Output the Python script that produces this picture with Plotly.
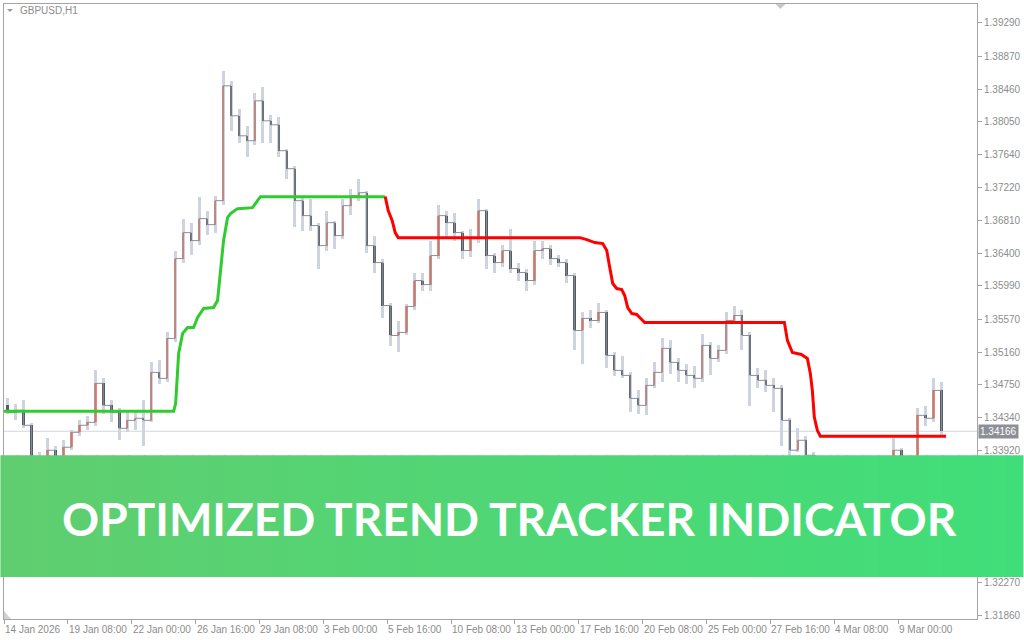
import plotly.graph_objects as go

# ---------------- data ----------------
# Price candles, aggregated to 8 one-hour bars each (bar index axis, MT4 style)
hours_per_candle = 8
open_ = [1.34491, 1.34404, 1.34429, 1.34241, 1.33777, 1.33802, 1.33928, 1.33777, 1.33965, 1.34153,
         1.34241, 1.34278, 1.34767, 1.34491, 1.34404, 1.34203, 1.34303, 1.34329, 1.34303, 1.34905,
         1.34830, 1.35331, 1.36333, 1.36659, 1.36559, 1.36835, 1.36759, 1.37060, 1.38501, 1.38125,
         1.37874, 1.37812, 1.38313, 1.38062, 1.38012, 1.37687, 1.37461, 1.37060, 1.36872, 1.36747,
         1.36496, 1.36784, 1.36621, 1.36997, 1.37123, 1.37160, 1.36496, 1.36283, 1.35744, 1.35368,
         1.35406, 1.35732, 1.36058, 1.36007, 1.36371, 1.36872, 1.36784, 1.36659, 1.36434, 1.36584,
         1.36935, 1.36371, 1.36283, 1.36434, 1.36208, 1.36158, 1.36058, 1.36434, 1.36459, 1.36333,
         1.36283, 1.36120, 1.35431, 1.35582, 1.35556, 1.35657, 1.35118, 1.34930, 1.34867, 1.34579,
         1.34491, 1.34742, 1.34905, 1.35206, 1.35030, 1.34930, 1.34867, 1.34830, 1.35243, 1.35080,
         1.35181, 1.35556, 1.35619, 1.35368, 1.34867, 1.34805, 1.34742, 1.34704, 1.34303, 1.33928,
         1.34053, 1.33865, 1.33301, 1.33176, 1.33426, 1.33740, 1.33677, 1.33577, 1.33489, 1.33426,
         1.33552, 1.33614, 1.33928, 1.33113, 1.33552, 1.34366, 1.34329, 1.34679]
high_ = [1.34579, 1.34504, 1.34554, 1.34266, 1.33902, 1.34078, 1.33978, 1.34053, 1.34178, 1.34303,
         1.34354, 1.34930, 1.34830, 1.34554, 1.34454, 1.34429, 1.34429, 1.34554, 1.35030, 1.35055,
         1.35406, 1.36434, 1.36835, 1.36784, 1.37110, 1.36935, 1.37123, 1.38689, 1.38564, 1.38213,
         1.38000, 1.38413, 1.38488, 1.38138, 1.38113, 1.37712, 1.37499, 1.37110, 1.37085, 1.36784,
         1.36935, 1.36809, 1.37085, 1.37210, 1.37336, 1.37185, 1.36621, 1.36333, 1.35782, 1.35556,
         1.35757, 1.36158, 1.36158, 1.36559, 1.37010, 1.36935, 1.36910, 1.36684, 1.36709, 1.37085,
         1.36960, 1.36408, 1.36509, 1.36709, 1.36283, 1.36208, 1.36559, 1.36559, 1.36509, 1.36383,
         1.36333, 1.36158, 1.35657, 1.35682, 1.35782, 1.35682, 1.35155, 1.35105, 1.34905, 1.34679,
         1.34830, 1.35030, 1.35331, 1.35306, 1.35080, 1.35005, 1.34980, 1.35381, 1.35281, 1.35243,
         1.35657, 1.35744, 1.35682, 1.35406, 1.34955, 1.34930, 1.34830, 1.34742, 1.34329, 1.34203,
         1.34103, 1.33902, 1.33489, 1.33552, 1.33865, 1.33852, 1.33777, 1.33702, 1.33602, 1.33652,
         1.33702, 1.34078, 1.33953, 1.33677, 1.34454, 1.34479, 1.34830, 1.34780]
low_ = [1.34379, 1.34303, 1.34203, 1.33614, 1.33652, 1.33727, 1.33677, 1.33426, 1.33928, 1.34103,
        1.34178, 1.34228, 1.34379, 1.34278, 1.34053, 1.34153, 1.34178, 1.33978, 1.34278, 1.34755,
        1.34780, 1.35281, 1.36283, 1.36383, 1.36509, 1.36634, 1.36659, 1.37010, 1.37937, 1.37787,
        1.37611, 1.37762, 1.37787, 1.37787, 1.37611, 1.37336, 1.36734, 1.36684, 1.36684, 1.36208,
        1.36434, 1.36459, 1.36584, 1.36885, 1.37060, 1.36408, 1.36158, 1.35582, 1.35231, 1.35155,
        1.35368, 1.35682, 1.35932, 1.35932, 1.36333, 1.36584, 1.36559, 1.36333, 1.36358, 1.36534,
        1.36208, 1.36158, 1.36233, 1.36158, 1.36058, 1.35932, 1.36007, 1.36333, 1.36258, 1.36233,
        1.36033, 1.35181, 1.35005, 1.35456, 1.35531, 1.34955, 1.34855, 1.34830, 1.34404, 1.34379,
        1.34366, 1.34704, 1.34780, 1.34880, 1.34780, 1.34755, 1.34704, 1.34780, 1.34867, 1.35030,
        1.35130, 1.35506, 1.35181, 1.34479, 1.34704, 1.34654, 1.34404, 1.33978, 1.33752, 1.33902,
        1.33740, 1.32675, 1.32487, 1.33151, 1.33401, 1.33552, 1.33502, 1.33326, 1.33301, 1.33351,
        1.33476, 1.33577, 1.32875, 1.33050, 1.33502, 1.34228, 1.34278, 1.34103]
close_ = [1.34404, 1.34429, 1.34241, 1.33777, 1.33802, 1.33928, 1.33777, 1.33965, 1.34153, 1.34241,
          1.34278, 1.34767, 1.34491, 1.34404, 1.34203, 1.34303, 1.34329, 1.34303, 1.34905, 1.34830,
          1.35331, 1.36333, 1.36659, 1.36559, 1.36835, 1.36759, 1.37060, 1.38501, 1.38125, 1.37874,
          1.37812, 1.38313, 1.38062, 1.38012, 1.37687, 1.37461, 1.37060, 1.36872, 1.36747, 1.36496,
          1.36784, 1.36621, 1.36997, 1.37123, 1.37160, 1.36496, 1.36283, 1.35744, 1.35368, 1.35406,
          1.35732, 1.36058, 1.36007, 1.36371, 1.36872, 1.36784, 1.36659, 1.36434, 1.36584, 1.36935,
          1.36371, 1.36283, 1.36434, 1.36208, 1.36158, 1.36058, 1.36434, 1.36459, 1.36333, 1.36283,
          1.36120, 1.35431, 1.35582, 1.35556, 1.35657, 1.35118, 1.34930, 1.34867, 1.34579, 1.34491,
          1.34742, 1.34905, 1.35206, 1.35030, 1.34930, 1.34867, 1.34830, 1.35243, 1.35080, 1.35181,
          1.35556, 1.35619, 1.35368, 1.34867, 1.34805, 1.34742, 1.34704, 1.34303, 1.33928, 1.34053,
          1.33865, 1.33301, 1.33176, 1.33426, 1.33740, 1.33677, 1.33577, 1.33489, 1.33426, 1.33552,
          1.33614, 1.33928, 1.33113, 1.33552, 1.34366, 1.34329, 1.34679, 1.34166]

# Optimized Trend Tracker line (bar index, price)
ott_up_x = [0, 170, 172, 175, 179, 184, 190, 194, 200, 210, 214, 217, 220, 224, 227, 234, 249, 254, 257, 382]
ott_up_y = [1.34416, 1.34416, 1.34516, 1.35143, 1.35394, 1.35469, 1.35469, 1.35594, 1.35707, 1.35719,
            1.35807, 1.36220, 1.36559, 1.36847, 1.36897, 1.36960, 1.36972, 1.37060, 1.37110, 1.37110]
ott_dn_x = [382, 385, 389, 392, 395, 577, 584, 592, 600, 604, 607, 610, 614, 619, 622, 625, 629, 634,
            637, 642, 782, 785, 790, 799, 805, 808, 810, 812, 815, 818, 944]
ott_dn_y = [1.37110, 1.36935, 1.36809, 1.36659, 1.36596, 1.36596, 1.36571, 1.36534, 1.36521, 1.36434,
            1.36220, 1.36020, 1.35957, 1.35944, 1.35869, 1.35719, 1.35644, 1.35632, 1.35594, 1.35531,
            1.35531, 1.35306, 1.35155, 1.35130, 1.35080, 1.34892, 1.34679, 1.34341, 1.34178, 1.34103,
            1.34103]

last_price = 1.34166

x_tick_bars = [0, 64, 128, 192, 256, 320, 384, 448, 512, 576, 640, 704, 768, 832, 896]
x_tick_text = ["14 Jan 2026", "19 Jan 08:00", "22 Jan 00:00", "26 Jan 16:00", "29 Jan 08:00",
               "3 Feb 00:00", "5 Feb 16:00", "10 Feb 08:00", "13 Feb 00:00", "17 Feb 16:00",
               "20 Feb 08:00", "25 Feb 00:00", "27 Feb 16:00", "4 Mar 08:00", "9 Mar 00:00"]
y_tick_vals = [1.39290, 1.38870, 1.38460, 1.38050, 1.37640, 1.37220, 1.36810, 1.36400, 1.35990, 1.35570,
               1.35160, 1.34750, 1.34340, 1.33920, 1.33510, 1.33100, 1.32690, 1.32270, 1.31860]
y_tick_text = ["%.5f" % v for v in y_tick_vals]

symbol_label = "GBPUSD,H1"
banner_text = "OPTIMIZED TREND TRACKER INDICATOR"

# ---------------- layout geometry ----------------
W, H = 1024, 640
PL, PR, PT, PB = 3, 978, 3, 619          # plot area in pixels
X_RANGE = [0, PR - PL]
Y_RANGE = [1.31810, 1.39528]


def px(xp):
    return (xp - PL) / (PR - PL)


def py(yp):
    return (PB - yp) / (PB - PT)


centers = [hours_per_candle * i + hours_per_candle / 2 - 0.5 for i in range(len(close_))]

fig = go.Figure()

# wicks (light halo like the dense 1-px bars of the terminal)
fig.add_trace(go.Bar(x=centers, y=[h - l for h, l in zip(high_, low_)], base=low_, width=3,
                     marker=dict(color="#cdd3df", line=dict(width=0)),
                     hoverinfo="skip", showlegend=False))

# thin path joining consecutive candles
fig.add_trace(go.Scatter(x=centers, y=close_, mode="lines", line=dict(color="#8a8f99", width=1, shape="hv"),
                         hoverinfo="skip", showlegend=False))

# bodies
body_base = [min(o, c) for o, c in zip(open_, close_)]
body_h = [max(abs(c - o), 0.00008) for o, c in zip(open_, close_)]
body_col = ["#f08371" if c >= o else "#555a64" for o, c in zip(open_, close_)]
fig.add_trace(go.Bar(x=centers, y=body_h, base=body_base, width=2.5,
                     marker=dict(color=body_col, line=dict(width=0)),
                     hoverinfo="skip", showlegend=False))

# OTT indicator
fig.add_trace(go.Scatter(x=ott_up_x, y=ott_up_y, mode="lines",
                         line=dict(color="#2ecc2e", width=3), hoverinfo="skip", showlegend=False))
fig.add_trace(go.Scatter(x=ott_dn_x, y=ott_dn_y, mode="lines",
                         line=dict(color="#ff0000", width=3), hoverinfo="skip", showlegend=False))

shapes = []
# current price line
shapes.append(dict(type="line", xref="paper", yref="y", x0=0, x1=1, y0=last_price, y1=last_price,
                   line=dict(color="#d2d5de", width=1), layer="below"))
# small markers
shapes.append(dict(type="path", xref="paper", yref="paper",
                   path="M %f,%f L %f,%f L %f,%f Z" % (px(6), py(8), px(12), py(8), px(9), py(11)),
                   fillcolor="#9a9a9a", line=dict(width=0)))
shapes.append(dict(type="path", xref="paper", yref="paper",
                   path="M %f,%f L %f,%f L %f,%f Z" % (px(776), py(3), px(786), py(3), px(781), py(8)),
                   fillcolor="#c8c8c8", line=dict(width=0)))
shapes.append(dict(type="path", xref="paper", yref="paper",
                   path="M %f,%f L %f,%f L %f,%f Z" % (px(3), py(611), px(3), py(619), px(10), py(619)),
                   fillcolor="#d0d0d8", line=dict(width=0)))

# gradient banner (opaque strips, slightly overlapped so no seams)
N = 64
left_rgb = (96, 206, 112)
right_rgb = (64, 222, 122)
step = W / N
for i in range(N):
    t = (i + 0.5) / N
    r = round(left_rgb[0] + (right_rgb[0] - left_rgb[0]) * t)
    g = round(left_rgb[1] + (right_rgb[1] - left_rgb[1]) * t)
    b = round(left_rgb[2] + (right_rgb[2] - left_rgb[2]) * t)
    shapes.append(dict(type="rect", xref="paper", yref="paper",
                       x0=px(i * step - 0.6), x1=px((i + 1) * step + 0.6), y0=py(577), y1=py(455),
                       fillcolor="rgb(%d,%d,%d)" % (r, g, b), line=dict(width=0), layer="above"))

annotations = []
for xb, txt in zip(x_tick_bars, x_tick_text):
    annotations.append(dict(x=xb, xref="x", y=0, yref="paper", yanchor="top", xanchor="left",
                            yshift=-3, xshift=-1, text=txt, showarrow=False,
                            font=dict(family="Liberation Sans", size=10, color="#8c8c8c")))
annotations.append(dict(x=px(17), xref="paper", y=py(10), yref="paper", xanchor="left", yanchor="middle",
                        text=symbol_label, showarrow=False,
                        font=dict(family="Liberation Sans", size=10, color="#8c8c8c")))
annotations.append(dict(x=1, xref="paper", y=last_price, yref="y", xanchor="left", yanchor="middle",
                        xshift=1, text="%.5f" % last_price, showarrow=False, bgcolor="#8e8f96",
                        borderpad=1, font=dict(family="Liberation Sans", size=10, color="#ffffff")))
annotations.append(dict(x=px(510), xref="paper", y=py(518), yref="paper", xanchor="center", yanchor="middle",
                        text=banner_text, showarrow=False,
                        font=dict(family="Lato", size=46, color="#ffffff", weight=700)))

fig.update_layout(
    width=W, height=H,
    margin=dict(l=PL, r=W - PR, t=PT, b=H - PB),
    paper_bgcolor="#ffffff", plot_bgcolor="#ffffff",
    showlegend=False, barmode="overlay", bargap=0,
    shapes=shapes, annotations=annotations,
    xaxis=dict(range=X_RANGE, showgrid=False, zeroline=False, showline=True, mirror=True,
               linecolor="#a4a4a4", linewidth=1, tickvals=x_tick_bars, ticktext=[""] * len(x_tick_bars),
               ticks="outside", ticklen=4, tickcolor="#a4a4a4", fixedrange=True),
    yaxis=dict(range=Y_RANGE, side="right", showgrid=False, zeroline=False, showline=True, mirror=True,
               linecolor="#a4a4a4", linewidth=1, tickvals=y_tick_vals, ticktext=y_tick_text,
               ticks="outside", ticklen=4, tickcolor="#a4a4a4",
               tickfont=dict(family="Liberation Sans", size=10, color="#8c8c8c"), fixedrange=True),
)

fig.write_html("out.html", config={"displayModeBar": False},
               post_script="document.body.style.margin='0';document.body.style.overflow='hidden';")
